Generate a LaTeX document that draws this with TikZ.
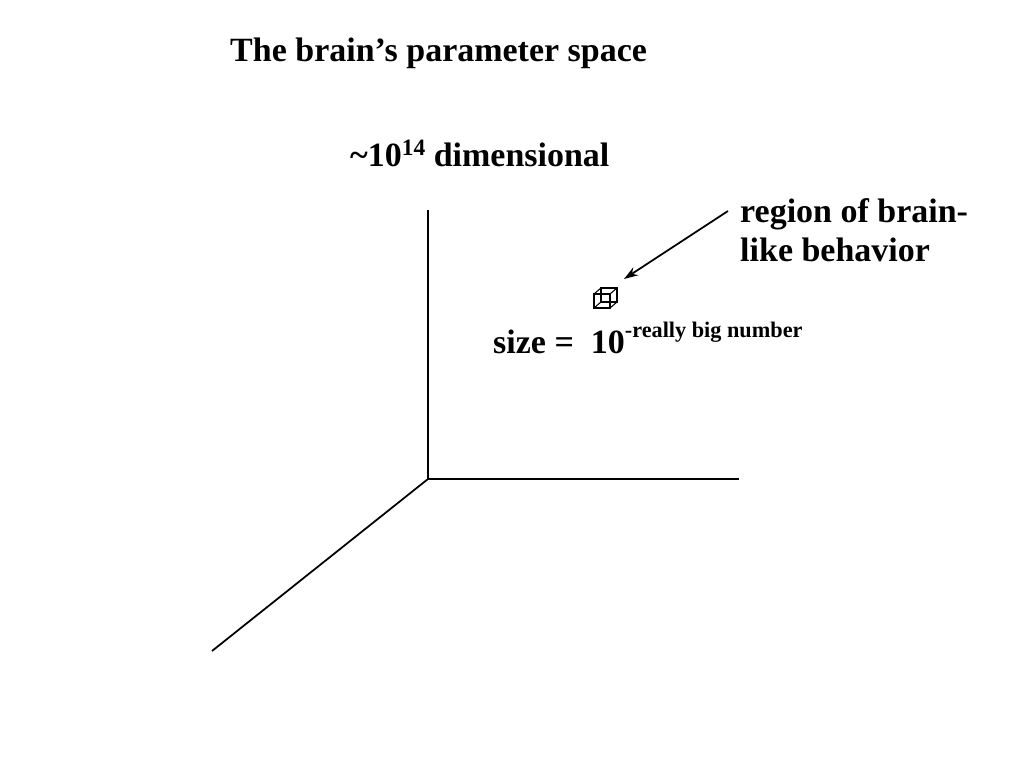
\documentclass[tikz,border=0pt]{standalone}
\usepackage{fontspec}
\setmainfont{Liberation Serif}
\usetikzlibrary{arrows.meta}
\begin{document}
\begin{tikzpicture}[x=0.03cm,y=-0.03cm,
  label/.style={font=\bfseries\fontsize{29}{34}\selectfont,inner sep=0pt}]
  \useasboundingbox (0,0) rectangle (1024,768);
  % Achsen
  \coordinate (o) at (428,479);
  \draw[line width=1.5pt] (o) -- (428,210);
  \draw[line width=1.5pt] (o) -- (739,479);
  \draw[line width=1.5pt] (o) -- (212,651);
  % Texte
  \node[label,anchor=base west] (title) at (230,62) {The brain’s parameter space};
  \node[label,anchor=base west] (dim) at (350,167) {\textasciitilde10\raisebox{0.35em}{\fontsize{20}{22}\selectfont 14} dimensional};
  \node[label,anchor=base west,align=left] (region) at (740,262) {region of brain-\\like behavior};
  \node[label,anchor=base west] (size) at (493,354) {size =\ \ 10\raisebox{0.5em}{\fontsize{19}{22}\selectfont-really big number}};
  % kleiner Wuerfel
  \begin{scope}[shift={(594,288)},line width=0.9pt]
    \draw (0,6) rectangle (16,20);
    \draw (7,0) rectangle (23,14);
    \draw (0,6) -- (7,0) (16,6) -- (23,0) (16,20) -- (23,14) (0,20) -- (7,14);
  \end{scope}
  \coordinate (cube) at (624,279);
  % Pfeil
  \coordinate (tail) at (728,211);
  \draw[line width=1.5pt,-{Stealth[length=12pt,width=8pt]}] (tail) -- (cube);
\end{tikzpicture}
\end{document}
